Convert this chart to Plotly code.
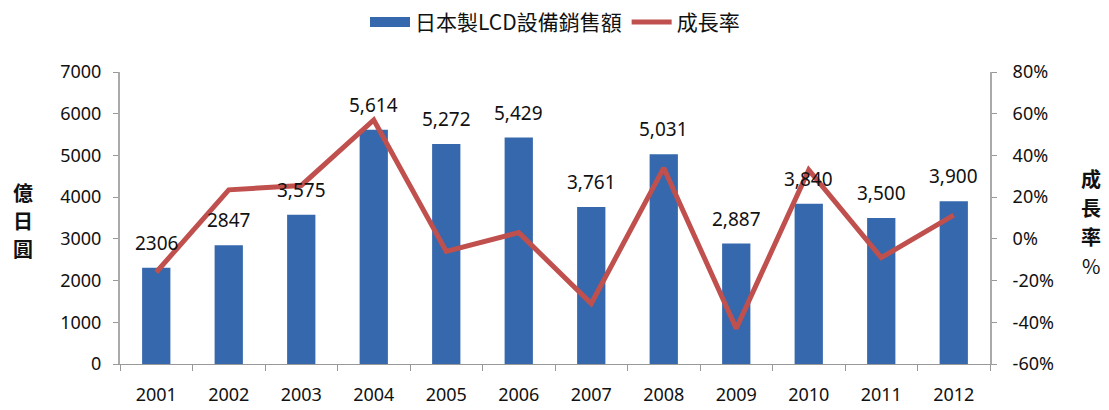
import plotly.graph_objects as go

years = ["2001", "2002", "2003", "2004", "2005", "2006", "2007", "2008", "2009", "2010", "2011", "2012"]
sales = [2306, 2847, 3575, 5614, 5272, 5429, 3761, 5031, 2887, 3840, 3500, 3900]
sales_labels = ["2306", "2847", "3,575", "5,614", "5,272", "5,429", "3,761", "5,031", "2,887", "3,840", "3,500", "3,900"]
growth = [-16, 23.5, 25.6, 57, -6, 3, -31, 34, -43, 33, -9, 11.4]
y1_ticks = [0, 1000, 2000, 3000, 4000, 5000, 6000, 7000]
y2_ticks = [-60, -40, -20, 0, 20, 40, 60, 80]
left_title = ["億", "日", "圓"]
right_title = ["成", "長", "率", "%"]

FONT = "Noto Sans CJK TC, Noto Sans, sans-serif"
NUMFONT = "Noto Sans, sans-serif"
BLUE = "#3668ad"
RED = "#c0504d"

fig = go.Figure()
fig.add_trace(go.Bar(
    x=years, y=sales, name="日本製LCD設備銷售額", showlegend=False,
    marker=dict(color=BLUE, line=dict(width=0)),
    width=0.39,
))
# legend proxy for the bar series (wide rectangle key), draws nothing
fig.add_trace(go.Scatter(
    x=years, y=[None] * len(years), name="日本製LCD設備銷售額", mode="lines",
    line=dict(color=BLUE, width=12), hoverinfo="skip",
))
fig.add_trace(go.Scatter(
    x=years, y=growth, name="成長率", yaxis="y2", mode="lines",
    line=dict(color=RED, width=5),
))

annotations = []
# category positions are indices on the category axis
for idx, (v, lab) in enumerate(zip(sales, sales_labels)):
    annotations.append(dict(text=lab, x=idx, y=v, xref="x", yref="y",
                            xanchor="center", yanchor="bottom", yshift=10,
                            showarrow=False, font=dict(size=19, color="#111", family=NUMFONT)))
for i, ch in enumerate(left_title):
    annotations.append(dict(text=f"<b>{ch}</b>", xref="paper", yref="paper",
                            x=-0.111, y=1 - (192 + 28 * i - 72) / 292,
                            xanchor="center", yanchor="middle", showarrow=False,
                            font=dict(size=20, family=FONT)))
for i, ch in enumerate(right_title):
    txt = f"<b>{ch}</b>" if ch != "%" else ch
    annotations.append(dict(text=txt, xref="paper", yref="paper",
                            x=1.116, y=1 - (178 + 29 * i - 72) / 292,
                            xanchor="center", yanchor="middle", showarrow=False,
                            font=dict(size=20, family=FONT)))

fig.update_layout(
    width=1109, height=410,
    margin=dict(l=120, r=119, t=72, b=46, autoexpand=False),
    paper_bgcolor="white", plot_bgcolor="white",
    font=dict(family=FONT, size=13, color="#111"),
    showlegend=True,
    legend=dict(orientation="h", x=0.5, xanchor="center", y=1.17, yanchor="middle",
                font=dict(size=21, family=FONT), traceorder="normal", itemwidth=40),
    xaxis=dict(type="category", categoryorder="array", categoryarray=years,
               range=[-0.5, len(years) - 0.5],
               showline=True, linecolor="#999", linewidth=1,
               ticks="outside", tickson="boundaries", ticklen=6, tickcolor="#999",
               ticklabelstandoff=14,
               tickfont=dict(size=18, family=NUMFONT), showgrid=False),
    yaxis=dict(range=[0, 7000], tickvals=y1_ticks, showline=True, linecolor="#aaa",
               linewidth=2, ticks="outside", ticklen=5, tickcolor="#999", showgrid=False,
               ticklabelstandoff=8,
               zeroline=False, tickfont=dict(size=18, family=NUMFONT)),
    yaxis2=dict(range=[-60, 80], tickvals=y2_ticks, ticktext=[f"{v}%" for v in y2_ticks],
                overlaying="y", side="right", showline=True, linecolor="#aaa", linewidth=2,
                ticks="outside", ticklen=5, tickcolor="#999", showgrid=False, zeroline=False,
                ticklabelstandoff=12,
                tickfont=dict(size=18, family=NUMFONT)),
    annotations=annotations,
)

fig.write_html("out.html", config={"displayModeBar": False},
               post_script="document.body.style.margin='0';")
